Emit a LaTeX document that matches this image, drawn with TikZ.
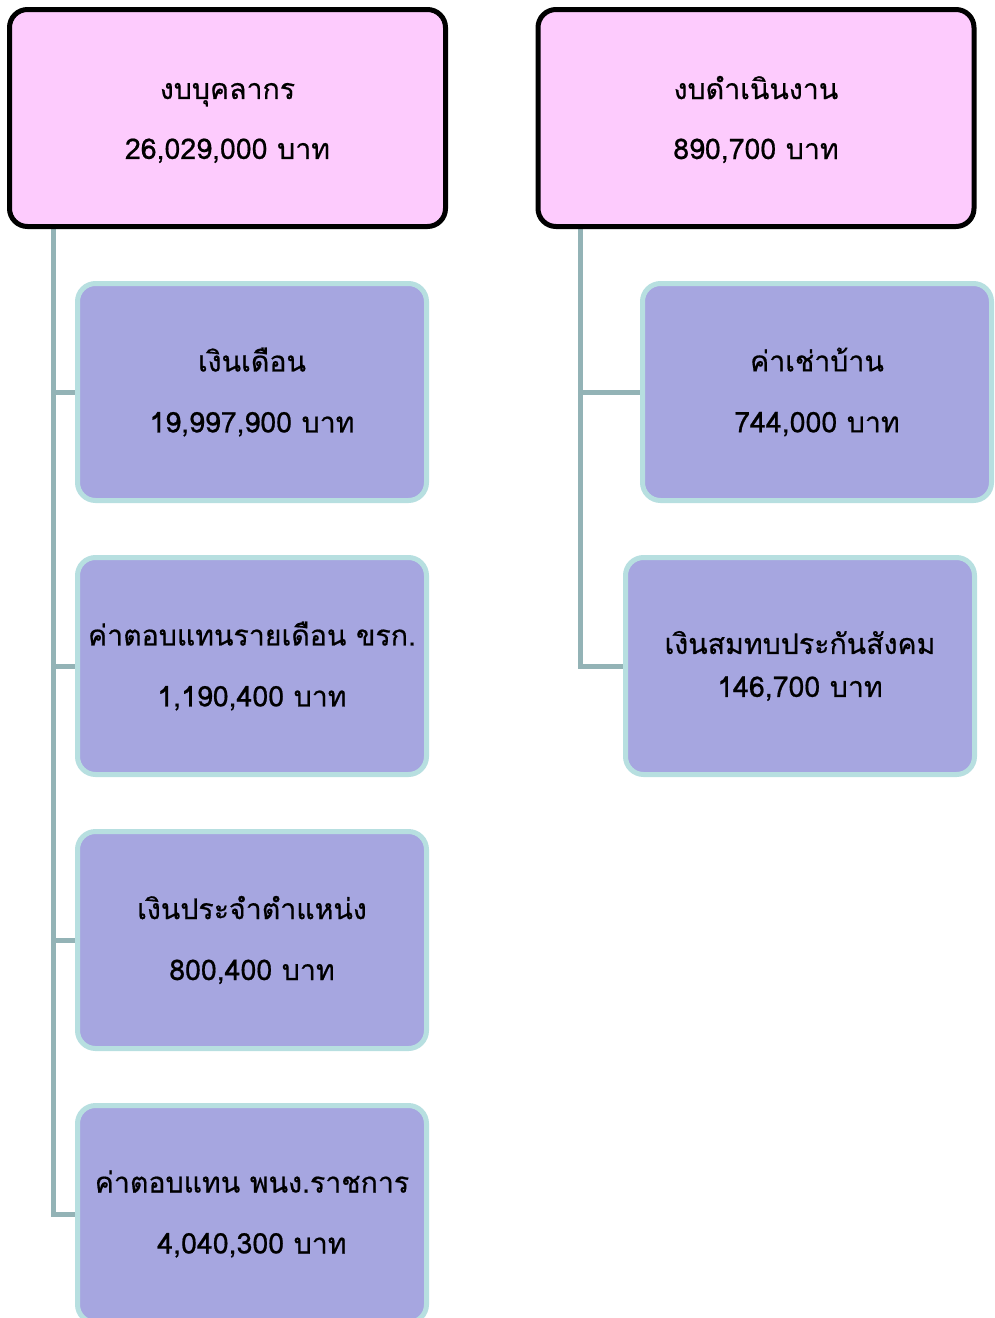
\documentclass[tikz,border=0pt]{standalone}
\usepackage{fontspec}
\newfontfamily\thaifont[Script=Thai,FakeBold=0.6]{Loma}
\usetikzlibrary{backgrounds}
\definecolor{pinkfill}{HTML}{FDCBFD}
\definecolor{purplefill}{HTML}{A6A6E0}
\definecolor{cyanborder}{HTML}{B7DFE0}
\definecolor{connc}{HTML}{93B3B6}
\tikzset{
  topbox/.style={draw=black, line width=5pt, fill=pinkfill, rounded corners=18pt,
    minimum width=436pt, minimum height=217pt, align=center, inner sep=0pt,
    font=\thaifont\fontsize{28.5}{60}\selectfont},
  subbox/.style={draw=cyanborder, line width=5pt, fill=purplefill, rounded corners=18pt,
    minimum width=349pt, minimum height=217pt, align=center, inner sep=0pt,
    font=\thaifont\fontsize{28.5}{61}\selectfont},
  conn/.style={draw=connc, line width=5pt},
}
\begin{document}
\begin{tikzpicture}[x=1pt,y=-1pt]
\useasboundingbox (0,0) rectangle (994,1318);
\node[topbox] (p1) at (227.5,118) {};
\node[topbox] (p2) at (756,118) {};
\node[align=center, inner sep=0pt, font=\thaifont\fontsize{28.5}{60}\selectfont] (t1) at (227.5,123) {งบบุคลากร\\26,029,000 บาท};
\node[align=center, inner sep=0pt, font=\thaifont\fontsize{28.5}{60}\selectfont] (t2) at (756,119.5) {งบดำเนินงาน\\890,700 บาท};
\node[subbox] (c1) at (252,392) {เงินเดือน\\19,997,900 บาท};
\node[subbox] (c2) at (252,666) {ค่าตอบแทนรายเดือน ขรก.\\1,190,400 บาท};
\node[subbox] (c3) at (252,940) {เงินประจำตำแหน่ง\\800,400 บาท};
\node[subbox] (c4) at (252,1214) {ค่าตอบแทน พนง.ราชการ\\4,040,300 บาท};
\node[subbox] (d1) at (817,392) {ค่าเช่าบ้าน\\744,000 บาท};
\node[subbox, font=\thaifont\fontsize{28.5}{43}\selectfont] (d2) at (800,666) {เงินสมทบประกันสังคม\\146,700 บาท};
\coordinate (lbar) at (53,0);
\coordinate (rbar) at (580,0);
\begin{scope}[on background layer]
\draw[conn] (p1.south -| lbar) |- (c4.west);
\draw[conn] (c1.west -| lbar) -- (c1.west);
\draw[conn] (c2.west -| lbar) -- (c2.west);
\draw[conn] (c3.west -| lbar) -- (c3.west);
\draw[conn] (p2.south -| rbar) |- (d2.west);
\draw[conn] (d1.west -| rbar) -- (d1.west);
\end{scope}
\end{tikzpicture}
\end{document}
